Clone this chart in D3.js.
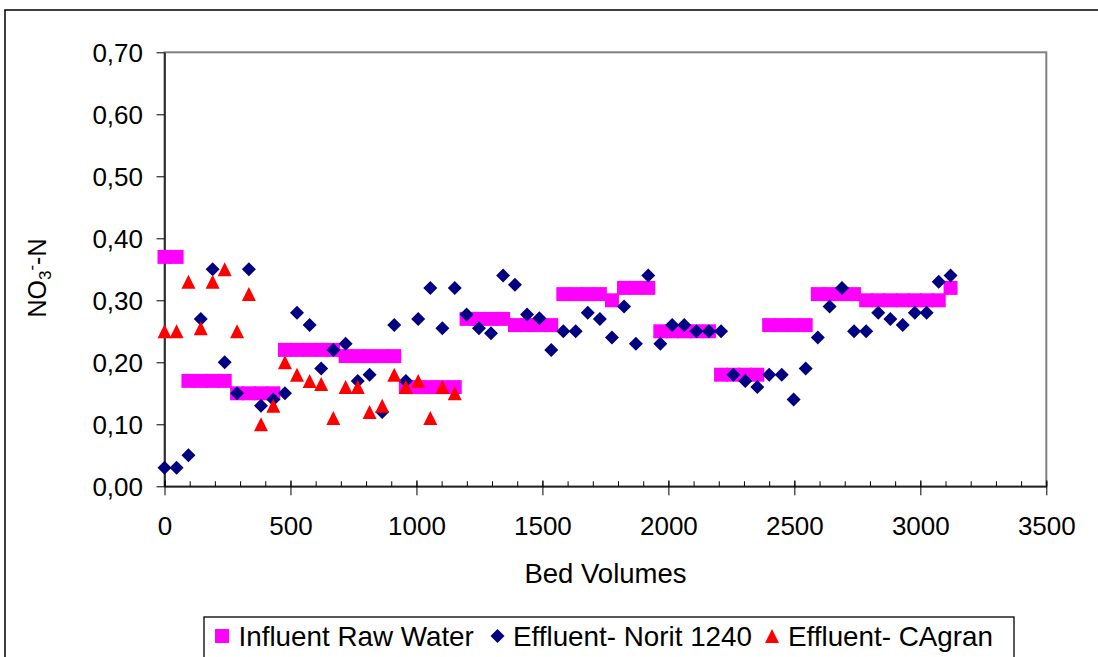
<!DOCTYPE html>
<html><head><meta charset="utf-8">
<script src="https://cdn.jsdelivr.net/npm/d3@7"></script>
<style>
body{margin:0;background:#fff}
svg{display:block}
text{font-family:"Liberation Sans",Arial,sans-serif;fill:#000}
</style>
</head><body>
<svg id="c" width="1098" height="657"></svg>
<script>
// Bed volume of each sample
const bedVolumes = [0,48,95,144,191,239,288,335,383,432,478,526,576,622,670,719,767,814,864,912,958,1007,1055,1103,1152,1199,1248,1296,1344,1391,1439,1488,1535,1583,1632,1680,1728,1776,1824,1871,1920,1968,2015,2063,2111,2161,2209,2258,2305,2353,2400,2450,2497,2545,2593,2640,2689,2737,2785,2833,2881,2930,2978,3025,3073,3120];
// Influent Raw Water (NO3- -N)
const influent = [0.37,0.37, 0.17,0.17,0.17,0.17, 0.15,0.15,0.15,0.15, 0.22,0.22,0.22,0.22,0.22, 0.21,0.21,0.21,0.21,0.21, 0.16,0.16,0.16,0.16,0.16, 0.27,0.27,0.27,0.27, 0.26,0.26,0.26,0.26, 0.31,0.31,0.31,0.31, 0.30, 0.32,0.32,0.32, 0.25,0.25,0.25,0.25,0.25, 0.18,0.18,0.18,0.18, 0.26,0.26,0.26,0.26, 0.31,0.31,0.31,0.31, 0.30,0.30,0.30,0.30,0.30,0.30,0.30, 0.32];
// Effluent- Norit 1240
const norit = [0.03,0.03,0.05,0.27,0.35,0.20,0.15,0.35,0.13,0.14, 0.15,0.28,0.26,0.19,0.22,0.23,0.17,0.18,0.12,0.26, 0.17,0.27,0.32,0.255,0.32,0.277,0.255,0.247,0.34,0.325, 0.277,0.271,0.22,0.25,0.25,0.28,0.27,0.24,0.29,0.23, 0.34,0.23,0.26,0.26,0.25,0.25,0.25,0.18,0.17,0.16, 0.18,0.18,0.14,0.19,0.24,0.29,0.32,0.25,0.25,0.28, 0.27,0.26,0.28,0.28,0.33,0.34];
// Effluent- CAgran
const cagran = [0.25,0.25,0.33,0.255,0.33,0.35,0.25,0.31,0.10,0.13, 0.20,0.18,0.17,0.165,0.11,0.16,0.16,0.12,0.13,0.18, 0.16,0.17,0.11,0.16,0.15];

const xMajorTicks = [0,500,1000,1500,2000,2500,3000,3500];
const yTicks = [0,0.1,0.2,0.3,0.4,0.5,0.6,0.7];
const seriesNames = ["Influent Raw Water","Effluent- Norit 1240","Effluent- CAgran"];
const colors = ["#FF00FF","#000080","#FF0000"];

const svg = d3.select("#c");
const x = d3.scaleLinear().domain([0,3500]).range([164.5,1046.3]);
const y = d3.scaleLinear().domain([0,0.7]).range([486.3,52.3]);

// outer chart frame
svg.append("rect").attr("x",5).attr("y",10).attr("width",1100).attr("height",660)
  .attr("fill","none").attr("stroke","#000").attr("stroke-width",1.5);

// plot area border
svg.append("rect").attr("x",x(0)).attr("y",y(0.7)).attr("width",x(3500)-x(0)).attr("height",y(0)-y(0.7))
  .attr("fill","none").attr("stroke","#808080").attr("stroke-width",2);

// x axis minor ticks
const xMinor = svg.append("g").attr("transform",`translate(0,${y(0)})`)
  .call(d3.axisBottom(x).tickValues(d3.range(0,3501,100)).tickSize(-5).tickFormat(""));
xMinor.select(".domain").remove();
xMinor.selectAll("line").attr("stroke","#000");

// x axis major
const xAxis = svg.append("g").attr("transform",`translate(0,${y(0)})`)
  .call(d3.axisBottom(x).tickValues(xMajorTicks).tickSizeInner(9).tickSizeOuter(0).tickFormat(d3.format("d")));
xAxis.select(".domain").attr("stroke","#000").attr("stroke-width",1.3);
xAxis.selectAll(".tick line").attr("y1",-6).attr("y2",9).attr("stroke","#000");
xAxis.selectAll(".tick text").attr("y",49).attr("dy",null).style("font-size","26px").attr("font-family",null);

// y axis
const yAxis = svg.append("g").attr("transform",`translate(${x(0)},0)`)
  .call(d3.axisLeft(y).tickValues(yTicks).tickSizeInner(8).tickSizeOuter(0)
    .tickFormat(d => d3.format(".2f")(d).replace(".",",")));
yAxis.select(".domain").attr("stroke","#000").attr("stroke-width",1.3);
yAxis.selectAll(".tick line").attr("stroke","#000");
yAxis.selectAll(".tick text").attr("x",-21.5).attr("dy",null).attr("y",9).style("font-size","26px").attr("font-family",null);

// axis titles
svg.append("text").attr("x",605.5).attr("y",583).attr("text-anchor","middle").style("font-size","27.5px").text("Bed Volumes");
const yt = svg.append("text").attr("transform","translate(46,278) rotate(-90)").attr("text-anchor","middle").style("font-size","25px");
yt.append("tspan").text("NO");
yt.append("tspan").attr("dy",5).style("font-size","17px").text("3");
yt.append("tspan").attr("dy",-14).style("font-size","17px").text("-");
yt.append("tspan").attr("dy",9).text("-N");

// marker shapes
const sq = s => `M${-s/2},${-s/2}h${s}v${s}h${-s}Z`;
const dia = s => `M0,${-s/2}L${s/2},0L0,${s/2}L${-s/2},0Z`;
const tri = s => `M0,${-s/2}L${s/2},${s/2}L${-s/2},${s/2}Z`;

const plot = svg.append("g");
plot.selectAll(".inf").data(influent).join("path").attr("class","inf")
  .attr("d",sq(14)).attr("fill",colors[0])
  .attr("transform",(d,i)=>`translate(${x(bedVolumes[i])},${y(d)})`);
plot.selectAll(".nor").data(norit).join("path").attr("class","nor")
  .attr("d",dia(14)).attr("fill",colors[1])
  .attr("transform",(d,i)=>`translate(${x(bedVolumes[i])},${y(d)})`);
plot.selectAll(".cag").data(cagran).join("path").attr("class","cag")
  .attr("d",tri(14)).attr("fill",colors[2])
  .attr("transform",(d,i)=>`translate(${x(bedVolumes[i])},${y(d)})`);

// legend
const lg = svg.append("g");
lg.append("rect").attr("x",204).attr("y",617).attr("width",810).attr("height",60)
  .attr("fill","#fff").attr("stroke","#000").attr("stroke-width",1.3);
const legendItems = [
  {name:seriesNames[0], shape:sq(14), color:colors[0], mx:222, tx:238.5},
  {name:seriesNames[1], shape:dia(14), color:colors[1], mx:497.5, tx:513},
  {name:seriesNames[2], shape:tri(14), color:colors[2], mx:772, tx:788}
];
legendItems.forEach(it=>{
  lg.append("path").attr("d",it.shape).attr("fill",it.color).attr("transform",`translate(${it.mx},636)`);
  lg.append("text").attr("x",it.tx).attr("y",646).style("font-size","27.8px").text(it.name);
});
</script>
</body></html>
